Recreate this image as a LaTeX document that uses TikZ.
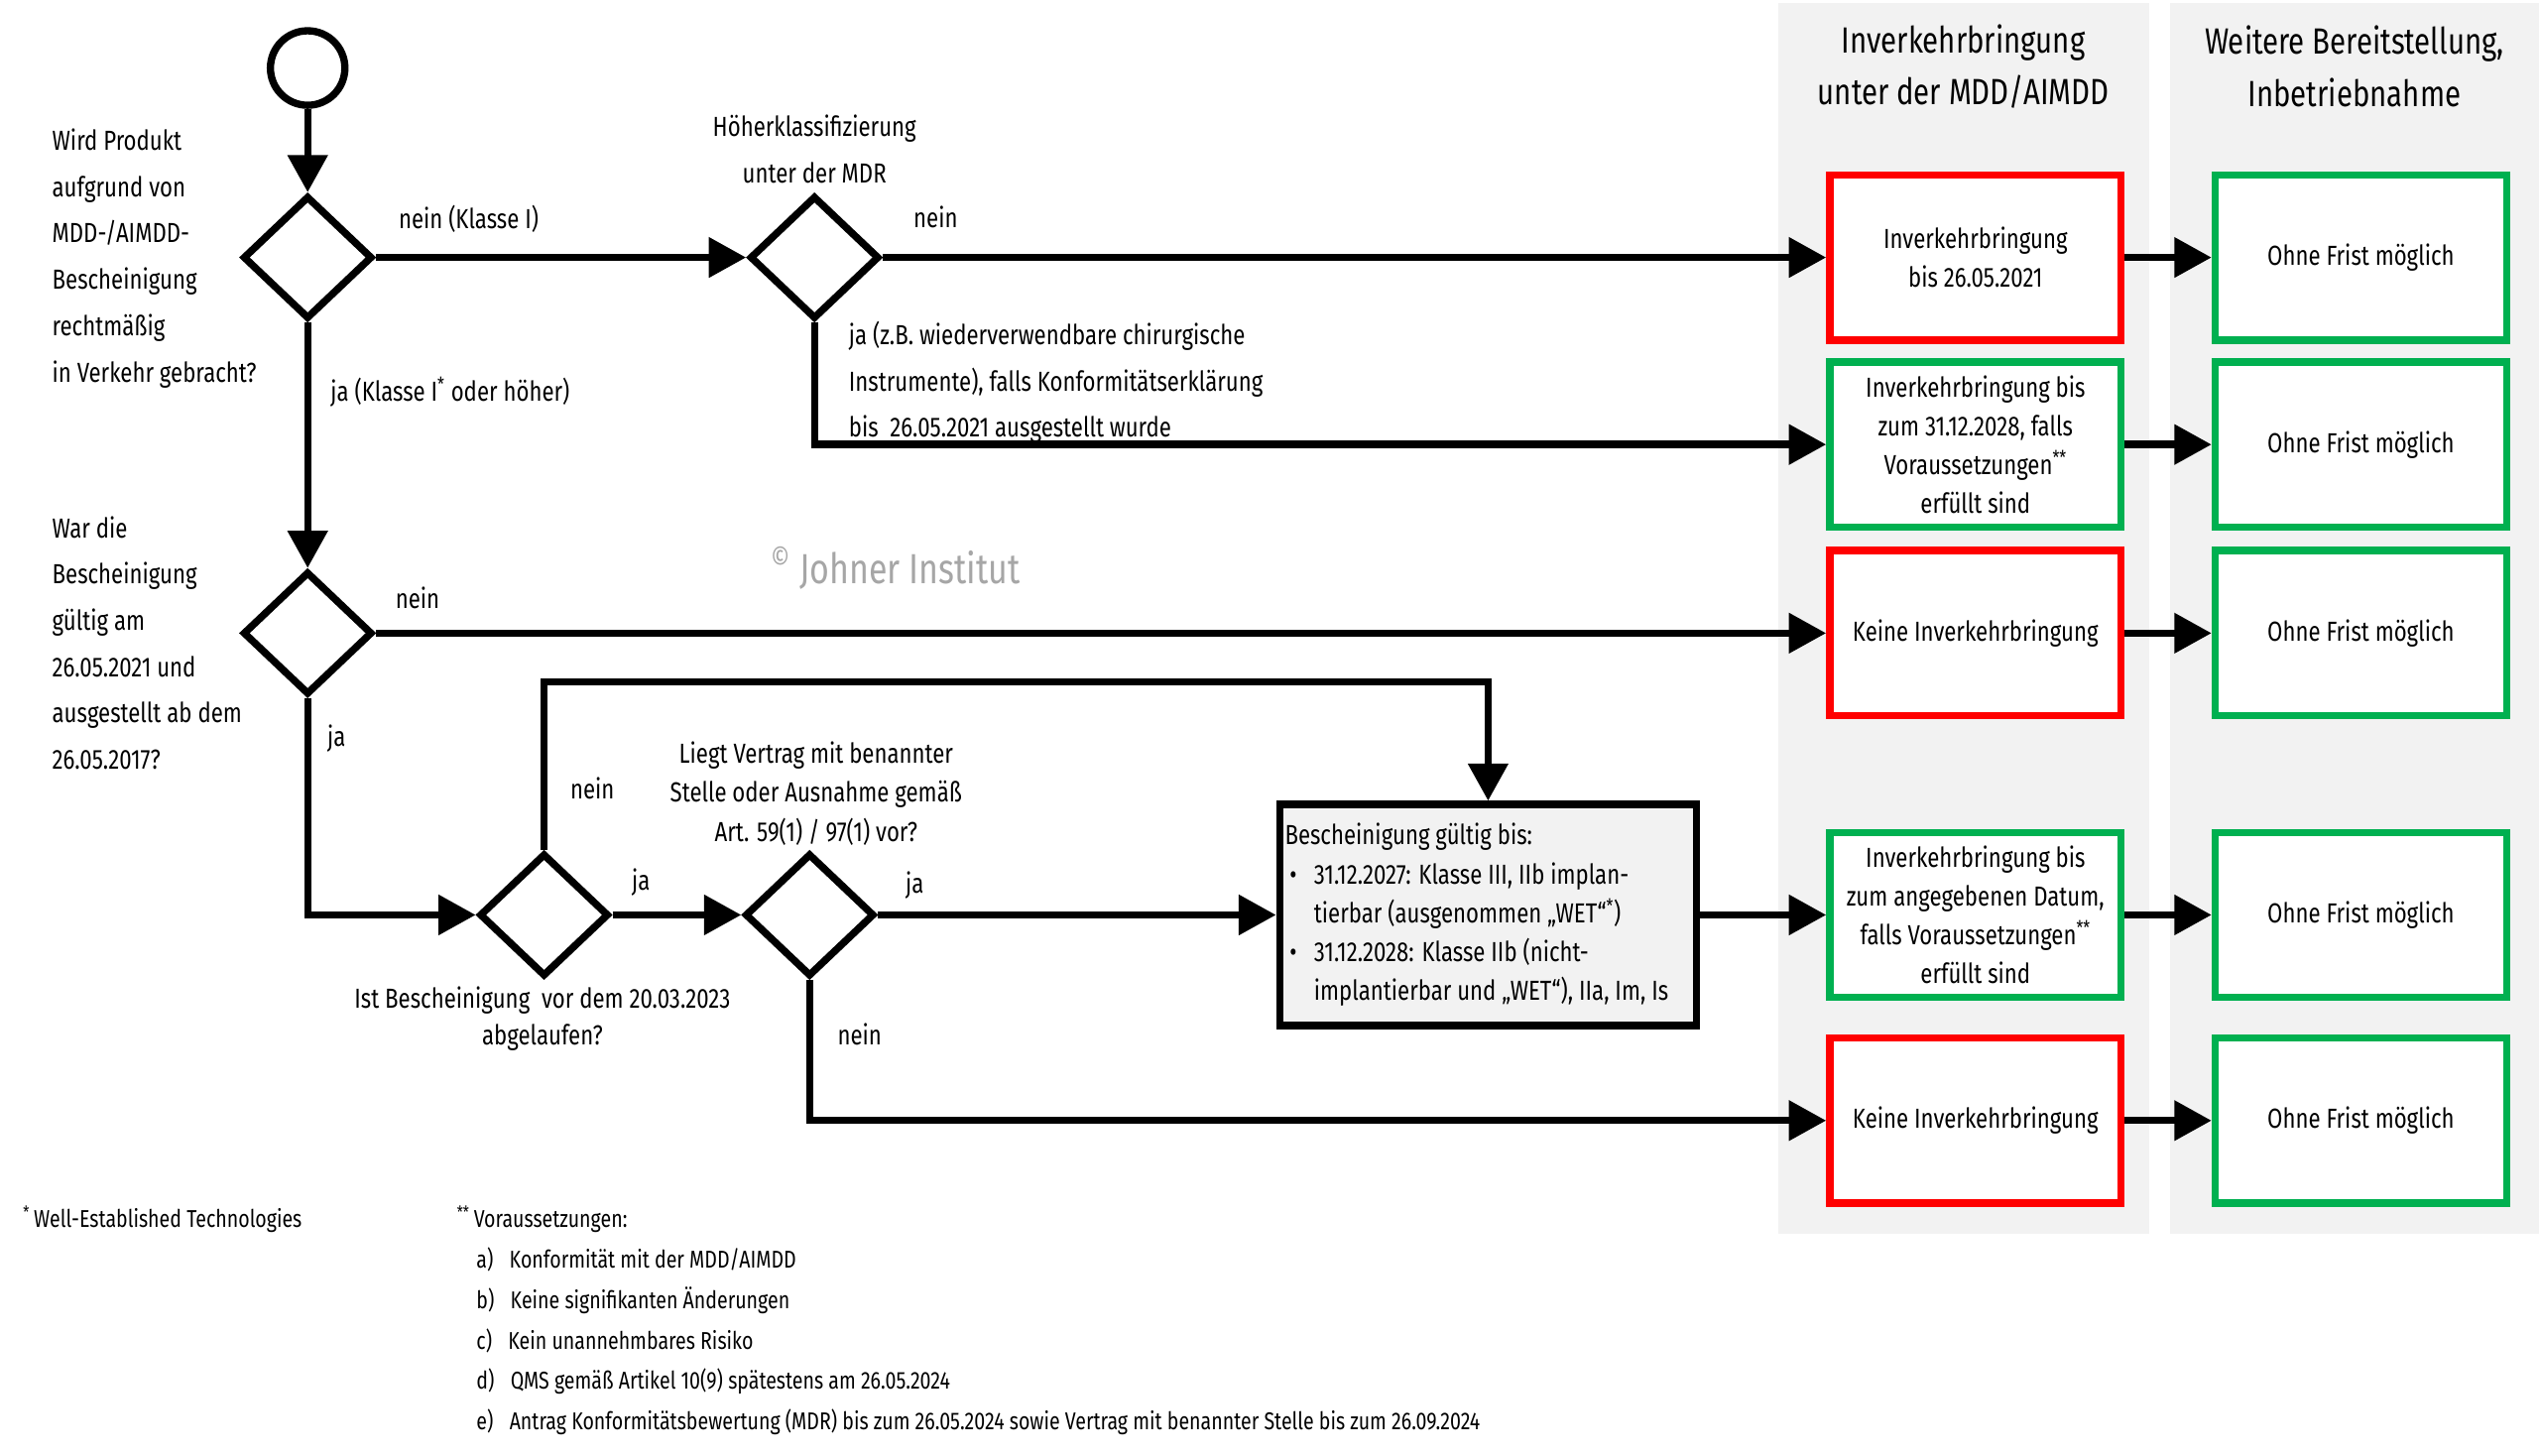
\documentclass[tikz,border=0pt]{standalone}
\usepackage{fontspec}
\setmainfont{Fira Sans}[FakeStretch=0.8]
\usetikzlibrary{shapes.geometric,arrows.meta}
\definecolor{boxred}{HTML}{FF0000}
\definecolor{boxgreen}{HTML}{00B050}
\definecolor{colgray}{HTML}{F2F2F2}
\definecolor{markgray}{HTML}{A6A6A6}

\begin{document}
\begin{tikzpicture}[x=1pt,y=-1pt,line width=4.5pt]
	\tikzstyle{every node}+=[inner sep=0pt, font=\fontsize{17}{24}\selectfont]
	\tikzstyle{flow}=[draw=black, -{Triangle[length=23pt,width=24pt]}]
	\tikzstyle{decision}=[draw=black, diamond, minimum width=80pt, minimum height=76pt]
	\tikzstyle{redbox}=[draw=boxred, fill=white, rectangle, minimum width=180pt, minimum height=102pt, align=center]
	\tikzstyle{greenbox}=[redbox, draw=boxgreen]
	\tikzstyle{question}=[anchor=west, align=left, font=\fontsize{17}{28.6}\selectfont]
	\tikzstyle{label}=[anchor=west]
	\tikzstyle{header}=[align=center, font=\fontsize{22.5}{32}\selectfont]
	\tikzstyle{note}=[anchor=west, font=\fontsize{15}{18}\selectfont]
	\useasboundingbox (0,0) rectangle (1568,899);
	% Spalten rechts
	\fill [colgray] (1098,2) rectangle (1327,762);
	\fill [colgray] (1340,2) rectangle (1568,762);
	\node (h1) [header] at (1212.5,41) {Inverkehrbringung\\unter der MDD/AIMDD};
	\node (h2) [header] at (1454,41) {Weitere Bereitstellung,\\Inbetriebnahme};
	% Start und Entscheidungen
	\node (start) [draw=black, circle, minimum size=46pt] at (190,42) {};
	\node (d1) [decision] at (190,159) {};
	\node (d2) [decision] at (503,159) {};
	\node (d3) [decision] at (190,391) {};
	\node (d4) [decision] at (336,565) {};
	\node (d5) [decision] at (500,565) {};
	\coordinate (loop) at (919,421);
	% Fragen
	\node (q1) [question] at (30,159.5) {Wird Produkt\\aufgrund von\\MDD-/AIMDD-\\Bescheinigung\\rechtmäßig\\in Verkehr gebracht?};
	\node (q2) [question, anchor=center, align=center] at (503,92) {Höherklassifizierung\\unter der MDR};
	\node (q3) [question] at (30,397) {War die\\Bescheinigung\\gültig am\\26.05.2021 und\\ausgestellt ab dem\\26.05.2017?};
	\node (q4) [align=center, font=\fontsize{17}{23}\selectfont] at (335,629) {Ist Bescheinigung \ vor dem 20.03.2023\\abgelaufen?};
	\node (q5) [align=center, font=\fontsize{17}{24}\selectfont] at (504,490) {Liegt Vertrag mit benannter\\Stelle oder Ausnahme gemäß\\Art. 59(1) / 97(1) vor?};
	% Ergebnisse
	\node (r1) [redbox] at (1220,159) {Inverkehrbringung\\bis 26.05.2021};
	\node (g1) [greenbox] at (1458,159) {Ohne Frist möglich};
	\node (b2) [greenbox] at (1220,274.5) {Inverkehrbringung bis\\zum 31.12.2028, falls\\Voraussetzungen\textsuperscript{**}\\erfüllt sind};
	\node (g2) [greenbox] at (1458,274.5) {Ohne Frist möglich};
	\node (r3) [redbox] at (1220,391) {Keine Inverkehrbringung};
	\node (g3) [greenbox] at (1458,391) {Ohne Frist möglich};
	\node (b4) [greenbox] at (1220,565) {Inverkehrbringung bis\\zum angegebenen Datum,\\falls Voraussetzungen\textsuperscript{**}\\erfüllt sind};
	\node (g4) [greenbox] at (1458,565) {Ohne Frist möglich};
	\node (r5) [redbox] at (1220,692) {Keine Inverkehrbringung};
	\node (g5) [greenbox] at (1458,692) {Ohne Frist möglich};
	\node (bg) [draw=black, fill=colgray, minimum width=257.5pt, minimum height=136.5pt, inner xsep=3pt, text width=251pt, align=left] at (919,565) {\spaceskip=0pt\xspaceskip=0pt
		Bescheinigung gültig bis:\\
		\makebox[18pt][l]{\hspace{3pt}\textbullet}31.12.2027: Klasse III, IIb implan-\\
		\hspace*{18pt}tierbar (ausgenommen „WET“\textsuperscript{*})\\
		\makebox[18pt][l]{\hspace{3pt}\textbullet}31.12.2028: Klasse IIb (nicht-\\
		\hspace*{18pt}implantierbar und „WET“), IIa, Im, Is};
	% Pfeile
	\draw [flow] (start) -- (d1.north);
	\draw [flow] (d1.east) -- (d2.west);
	\draw [flow] (d2.east) -- (r1.west);
	\draw [flow] (r1.east) -- (g1.west);
	\draw [flow] (d2.south) |- (b2.west);
	\draw [flow] (b2.east) -- (g2.west);
	\draw [flow] (d1.south) -- (d3.north);
	\draw [flow] (d3.east) -- (r3.west);
	\draw [flow] (r3.east) -- (g3.west);
	\draw [flow] (d3.south) |- (d4.west);
	\draw [flow] (d4.north) |- (loop) -- (bg.north);
	\draw [flow] (d4.east) -- (d5.west);
	\draw [flow] (d5.east) -- (bg.west);
	\draw [flow] (bg.east) -- (b4.west);
	\draw [flow] (b4.east) -- (g4.west);
	\draw [flow] (d5.south) |- (r5.west);
	\draw [flow] (r5.east) -- (g5.west);
	% Beschriftungen
	\node (l1) [label] at (244,135) {nein (Klasse I)};
	\node (l2) [label] at (562,134) {nein};
	\node (l3) [question] at (522,236) {ja (z.B. wiederverwendbare chirurgische\\Instrumente), falls Konformitätserklärung\\bis \ 26.05.2021 ausgestellt wurde};
	\node (l4) [label] at (202,242) {ja (Klasse I\textsuperscript{*} oder höher)};
	\node (l5) [label] at (242,369) {nein};
	\node (l6) [label] at (200,456) {ja};
	\node (l7) [label] at (350,487) {nein};
	\node (l8) [label] at (388,545) {ja};
	\node (l9) [label] at (557,547) {ja};
	\node (l10) [label] at (515,639) {nein};
	\node (mark) [text=markgray, font=\fontsize{26}{30}\selectfont] at (553,351) {\textsuperscript{©} Johner Institut};
	% Fussnoten
	\node (n1) [note] at (12,753) {\textsuperscript{*}\,Well-Established Technologies};
	\node (n2) [note] at (280,753) {\textsuperscript{**}\,Voraussetzungen:};
	\foreach \lbl/\txt [count=\i] in {a/{Konformität mit der MDD/AIMDD}, b/{Keine signifikanten Änderungen}, c/{Kein unannehmbares Risiko}, d/{QMS gemäß Artikel 10(9) spätestens am 26.05.2024}, e/{Antrag Konformitätsbewertung (MDR) bis zum 26.05.2024 sowie Vertrag mit benannter Stelle bis zum 26.09.2024}}
		\node (item\i) [note] at (292,753+25*\i) {\lbl)\hspace{10pt}\txt};
\end{tikzpicture}
\end{document}
